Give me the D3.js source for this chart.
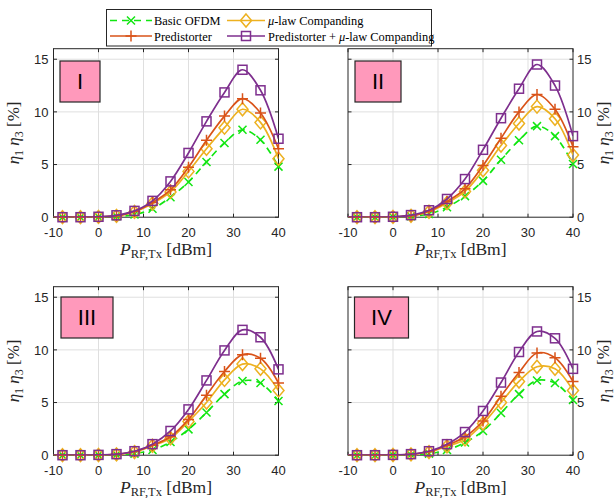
<!DOCTYPE html>
<html><head><meta charset="utf-8">
<script src="https://cdn.jsdelivr.net/npm/d3@7"></script>
<style>
html,body{margin:0;padding:0;background:#fff;}
svg{display:block;}
</style></head>
<body>
<svg id="c" width="614" height="498"></svg>
<script>
// ---------- data ----------
const xValues = [-8, -4, 0, 4, 8, 12, 16, 20, 24, 28, 32, 36, 40];
const xTicks = [-10, 0, 10, 20, 30, 40];
const yTicks = [0, 5, 10, 15];
const panelLabels = ["I", "II", "III", "IV"];
const seriesNames = ["Basic OFDM", "Predistorter", "μ-law Companding", "Predistorter + μ-law Companding"];

// Panel I
const basicI   = [0, 0, 0.02, 0.08, 0.25, 0.8, 1.9, 3.35, 5.25, 7.05, 8.3, 7.35, 4.8];
const predI    = [0, 0, 0.03, 0.13, 0.55, 1.4, 2.6, 4.75, 7.3, 9.6, 11.25, 9.9, 6.5];
const muI      = [0, 0, 0.03, 0.12, 0.5, 1.3, 2.4, 4.35, 6.5, 8.5, 10.25, 9.0, 5.55];
const predMuI  = [0, 0, 0.04, 0.18, 0.6, 1.55, 3.4, 6.1, 9.1, 11.85, 14.0, 12.05, 7.45];
// Panel II
const basicII  = [0, 0, 0.02, 0.09, 0.3, 0.95, 2.0, 3.45, 5.45, 7.3, 8.65, 7.7, 5.05];
const predII   = [0, 0, 0.03, 0.14, 0.58, 1.5, 2.7, 4.9, 7.5, 10.0, 11.65, 10.25, 6.7];
const muII     = [0, 0, 0.03, 0.13, 0.52, 1.35, 2.45, 4.45, 6.8, 8.9, 10.5, 9.35, 5.9];
const predMuII = [0, 0, 0.04, 0.2, 0.66, 1.73, 3.62, 6.4, 9.4, 12.2, 14.5, 12.5, 7.7];
// Panel III
const basicIII  = [0, 0, 0.01, 0.05, 0.15, 0.5, 1.25, 2.45, 4.05, 5.8, 7.05, 6.85, 5.15];
const predIII   = [0, 0, 0.02, 0.08, 0.35, 0.95, 1.75, 3.4, 5.7, 7.95, 9.55, 9.2, 6.85];
const muIII     = [0, 0, 0.02, 0.07, 0.3, 0.9, 1.6, 3.2, 5.0, 7.15, 8.65, 8.2, 6.15];
const predMuIII = [0, 0, 0.03, 0.1, 0.38, 1.05, 2.3, 4.35, 7.1, 9.95, 11.9, 11.2, 8.15];
// Panel IV
const basicIV  = [0, 0, 0.01, 0.05, 0.15, 0.5, 1.2, 2.3, 4.0, 5.8, 7.1, 6.85, 5.25];
const predIV   = [0, 0, 0.02, 0.08, 0.35, 0.95, 1.75, 3.25, 5.6, 7.85, 9.7, 9.25, 7.0];
const muIV     = [0, 0, 0.02, 0.07, 0.3, 0.85, 1.5, 3.0, 5.0, 7.0, 8.4, 8.2, 6.15];
const predMuIV = [0, 0, 0.03, 0.1, 0.38, 1.05, 2.2, 4.2, 6.9, 9.8, 11.75, 11.1, 8.2];

const panelData = [
  [basicI, predI, muI, predMuI],
  [basicII, predII, muII, predMuII],
  [basicIII, predIII, muIII, predMuIII],
  [basicIV, predIV, muIV, predMuIV]
];

// ---------- styles ----------
const colors = ["#11e611", "#D95319", "#EDB120", "#7E2F8E"];
const markers = ["x", "plus", "diamond", "square"];
const dashes = ["7,5", null, null, null];
const drawOrder = [0, 2, 1, 3];

const svg = d3.select("#c");
const W = 225, H = 168.5;
const colX = [53.5, 348];
const rowY = [48.7, 286.7];
const panels = [
  {x: colX[0], y: rowY[0], right: false, box: [6.5, 12.3, 40, 41]},
  {x: colX[1], y: rowY[0], right: true,  box: [7, 12.3, 46, 41]},
  {x: colX[0], y: rowY[1], right: false, box: [7.5, 10.3, 52, 41]},
  {x: colX[1], y: rowY[1], right: true,  box: [6.5, 10.3, 54, 41]}
];

function drawMarker(g, type, color, cx, cy) {
  const s = g.append("g").attr("transform", `translate(${cx},${cy})`)
    .attr("fill", "none").attr("stroke", color).attr("stroke-width", 1.5);
  if (type === "square") {
    s.append("rect").attr("x", -4.5).attr("y", -4.5).attr("width", 9).attr("height", 9);
  } else if (type === "diamond") {
    s.append("path").attr("d", "M0,-6.5L5.5,0L0,6.5L-5.5,0Z");
  } else if (type === "plus") {
    s.append("path").attr("d", "M-5.5,0H5.5M0,-5.5V5.5");
  } else if (type === "x") {
    s.append("path").attr("d", "M-4,-4L4,4M-4,4L4,-4");
  }
}

const axisColor = "#262626";
const gridColor = "#dfdfdf";

panels.forEach((p, pi) => {
  const x = d3.scaleLinear().domain([-10, 40]).range([p.x, p.x + W]);
  const y = d3.scaleLinear().domain([0, 16]).range([p.y + H, p.y]);
  const g = svg.append("g");

  // grid
  g.selectAll(".gx").data(xTicks.slice(1, -1)).join("line")
    .attr("x1", d => x(d)).attr("x2", d => x(d)).attr("y1", p.y).attr("y2", p.y + H)
    .attr("stroke", gridColor).attr("stroke-width", 1);
  g.selectAll(".gy").data(yTicks.slice(1)).join("line")
    .attr("x1", p.x).attr("x2", p.x + W).attr("y1", d => y(d)).attr("y2", d => y(d))
    .attr("stroke", gridColor).attr("stroke-width", 1);

  // frame & ticks
  g.append("rect").attr("x", p.x).attr("y", p.y).attr("width", W).attr("height", H)
    .attr("fill", "none").attr("stroke", axisColor).attr("stroke-width", 1);
  xTicks.forEach(t => {
    g.append("line").attr("x1", x(t)).attr("x2", x(t)).attr("y1", p.y + H).attr("y2", p.y + H - 3.5).attr("stroke", axisColor);
    g.append("line").attr("x1", x(t)).attr("x2", x(t)).attr("y1", p.y).attr("y2", p.y + 3.5).attr("stroke", axisColor);
  });
  yTicks.forEach(t => {
    g.append("line").attr("x1", p.x).attr("x2", p.x + 3.5).attr("y1", y(t)).attr("y2", y(t)).attr("stroke", axisColor);
    g.append("line").attr("x1", p.x + W).attr("x2", p.x + W - 3.5).attr("y1", y(t)).attr("y2", y(t)).attr("stroke", axisColor);
  });

  // tick labels
  g.selectAll(".xt").data(xTicks).join("text")
    .attr("x", d => x(d)).attr("y", p.y + H + 19.5)
    .attr("text-anchor", "middle").attr("font-family", "Liberation Sans, Arial, sans-serif")
    .attr("font-size", 13).attr("fill", axisColor).text(d => d);
  g.selectAll(".yt").data(yTicks).join("text")
    .attr("x", p.right ? p.x + W + 4 : p.x - 5).attr("y", d => y(d)).attr("dy", "0.36em")
    .attr("text-anchor", p.right ? "start" : "end").attr("font-family", "Liberation Sans, Arial, sans-serif")
    .attr("font-size", 13).attr("fill", axisColor).text(d => d);

  // axis labels
  const xl = g.append("text").attr("x", p.x + W / 2).attr("y", p.y + H + 37.5)
    .attr("text-anchor", "middle").attr("font-family", "Liberation Serif, Times New Roman, serif")
    .attr("font-size", 17.5).attr("fill", axisColor);
  xl.append("tspan").attr("font-style", "italic").text("P");
  xl.append("tspan").attr("font-size", 12.5).attr("dy", 3).text("RF,Tx");
  xl.append("tspan").attr("dy", -3).text(" [dBm]");

  const ylx = p.right ? 609 : 19;
  const yl = g.append("text").attr("transform", `translate(${ylx},${p.y + H / 2}) rotate(-90)`)
    .attr("text-anchor", "middle").attr("font-family", "Liberation Serif, Times New Roman, serif")
    .attr("font-size", 17).attr("fill", axisColor);
  yl.append("tspan").attr("font-style", "italic").text("η");
  yl.append("tspan").attr("font-size", 12).attr("dy", 3.5).text("1");
  yl.append("tspan").attr("dy", -3.5).attr("font-style", "italic").text("  η");
  yl.append("tspan").attr("font-size", 12).attr("dy", 3.5).text("3");
  yl.append("tspan").attr("dy", -3.5).text("  [%]");

  // series
  const clip = "clip" + pi;
  svg.append("clipPath").attr("id", clip).append("rect")
    .attr("x", p.x).attr("y", p.y).attr("width", W).attr("height", H);
  const lineGen = d3.line().x(d => x(d[0])).y(d => y(d[1])).curve(d3.curveCatmullRom.alpha(0.5));
  drawOrder.forEach(si => {
    const vals = panelData[pi][si];
    const pts = [[-10, vals[0]]].concat(xValues.map((xv, i) => [xv, vals[i]]));
    const path = g.append("path").attr("d", lineGen(pts)).attr("clip-path", `url(#${clip})`)
      .attr("fill", "none").attr("stroke", colors[si]).attr("stroke-width", 1.7);
    if (dashes[si]) path.attr("stroke-dasharray", dashes[si]);
    xValues.forEach((xv, i) => drawMarker(g, markers[si], colors[si], x(xv), y(vals[i])));
  });

  // panel label box
  const b = p.box;
  g.append("rect").attr("x", p.x + b[0]).attr("y", p.y + b[1]).attr("width", b[2]).attr("height", b[3])
    .attr("fill", "#ff99bb").attr("stroke", "#262626").attr("stroke-width", 1.2);
  g.append("text").attr("x", p.x + b[0] + b[2] / 2).attr("y", p.y + b[1] + b[3] / 2).attr("dy", "0.36em")
    .attr("text-anchor", "middle").attr("font-family", "Liberation Sans, Arial, sans-serif")
    .attr("font-size", 22).attr("fill", "#000").text(panelLabels[pi]);
});

// ---------- legend ----------
const lg = svg.append("g");
lg.append("rect").attr("x", 106.5).attr("y", 9.5).attr("width", 325).attr("height", 36.5)
  .attr("fill", "#fff").attr("stroke", "#262626").attr("stroke-width", 1);
const legPos = [
  {lx1: 110, lx2: 152, tx: 154, y: 20.5},
  {lx1: 110, lx2: 152, tx: 154, y: 36},
  {lx1: 227, lx2: 265, tx: 268, y: 20.5},
  {lx1: 227, lx2: 265, tx: 268, y: 36}
];
seriesNames.forEach((name, si) => {
  const lp = legPos[si];
  const ln = lg.append("line").attr("x1", lp.lx1).attr("x2", lp.lx2).attr("y1", lp.y).attr("y2", lp.y)
    .attr("stroke", colors[si]).attr("stroke-width", 1.7);
  if (dashes[si]) ln.attr("stroke-dasharray", dashes[si]);
  drawMarker(lg, markers[si], colors[si], (lp.lx1 + lp.lx2) / 2, lp.y);
  const t = lg.append("text").attr("x", lp.tx).attr("y", lp.y + 4.5)
    .attr("font-family", "Liberation Serif, Times New Roman, serif").attr("font-size", 12.4).attr("fill", "#000");
  if (name.indexOf("μ") >= 0) {
    const k = name.indexOf("μ");
    t.append("tspan").text(name.slice(0, k));
    t.append("tspan").attr("font-style", "italic").text("μ");
    t.append("tspan").text(name.slice(k + 1));
  } else {
    t.text(name);
  }
});
</script>
</body></html>
